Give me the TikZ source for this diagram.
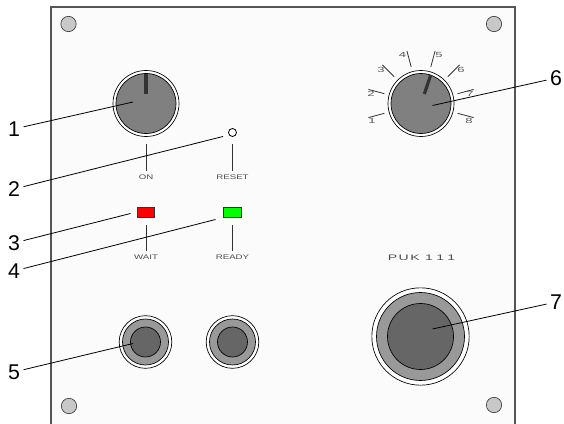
\documentclass[tikz,border=0pt]{standalone}
\usepackage{fontspec}
\setmainfont{Liberation Sans}
\newfontfamily\panelfont[FakeStretch=1.75]{Liberation Sans}
\newfontfamily\capfont[FakeStretch=1.45]{Liberation Sans}
\newfontfamily\modelfont[FakeStretch=1.75,LetterSpace=20]{Liberation Sans}
\definecolor{panelbg}{HTML}{FBFBFB}
\definecolor{paneledge}{HTML}{555555}
\definecolor{knobgray}{HTML}{808080}
\definecolor{ringgray}{HTML}{999999}
\definecolor{capgray}{HTML}{666666}
\definecolor{screwgray}{HTML}{C8C8C8}
\tikzset{
  ring/.style={circle,draw,line width=0.5pt,inner sep=0pt,fill=#1},
  screw/.style={ring=screwgray,minimum size=11.5pt,draw=black!75},
  lamp/.style={rectangle,draw=black!80,line width=0.7pt,inner sep=0pt,minimum width=13pt,minimum height=7pt,fill=#1},
  caption/.style={font=\capfont\fontsize{5pt}{6pt}\selectfont,text=black!70,inner sep=0pt},
  dialstep/.style={font=\panelfont\fontsize{5.6pt}{6pt}\selectfont,text=black!65,inner sep=0pt},
  callout/.style={font=\fontsize{16pt}{18pt}\selectfont,inner sep=2.5pt},
  leader/.style={line width=0.6pt},
  tick/.style={line width=0.6pt,black!80}
}
\begin{document}
\begin{tikzpicture}[x=0.75pt,y=-0.75pt]
  \useasboundingbox (0,0) rectangle (564,424);

  % front plate, runs off the bottom
  \fill [panelbg] (51,7) rectangle (515,424);
  \draw [paneledge,line width=0.9pt] (51,424) -- (51,7) -- (515,7) -- (515,424);

  % screws
  \node [screw] (screwa) at (68.5,24) {};
  \node [screw] (screwb) at (494,24) {};
  \node [screw] (screwc) at (69,406) {};
  \node [screw] (screwd) at (494,405) {};

  % power knob
  \node [ring=white,minimum size=49.5pt] (powerrim) at (146,103.5) {};
  \node [ring=knobgray,minimum size=45pt] (power) at (146,103.5) {};
  \draw [line width=2.4pt,black!80] (146,74) -- (146,94);

  % reset
  \node [ring=white,minimum size=6pt,line width=0.6pt] (reset) at (232.5,132.5) {};

  % lamps
  \node [lamp=red] (wait) at (146,212.5) {};
  \node [lamp=green] (ready) at (232.5,212.5) {};

  % captions and their ticks
  \node [caption] (onlabel) at (146,177.5) {ON};
  \node [caption] (resetlabel) at (232.5,177.5) {RESET};
  \node [caption] (waitlabel) at (146,257.5) {WAIT};
  \node [caption] (readylabel) at (232.5,257.5) {READY};
  \coordinate (ontop) at (146,144);
  \coordinate (resettop) at (232.5,144);
  \coordinate (waittop) at (146,225);
  \coordinate (readytop) at (232.5,225);
  \draw [tick] (ontop) -- ([yshift=3pt]onlabel.north);
  \draw [tick] (resettop) -- ([yshift=3pt]resetlabel.north);
  \draw [tick] (waittop) -- ([yshift=3pt]waitlabel.north);
  \draw [tick] (readytop) -- ([yshift=3pt]readylabel.north);

  % selector dial
  \node [ring=white,minimum size=49.5pt] (dialrim) at (421,103.5) {};
  \node [ring=knobgray,minimum size=45pt] (dial) at (421,103.5) {};
  \draw [line width=2.4pt,black!80] (430.7,75) -- (424.3,94);
  \foreach \a in {-195,-165,-135,-105,-75,-45,-15,15}
    \draw [tick] ([shift={(\a:38)}]dial.center) -- ([shift={(\a:54.5)}]dial.center);
  \foreach \n/\px/\py in {1/372/121,2/371/94,3/381/70,4/402.5/55,5/439/55,6/461/70,7/470/94,8/469/121}
    \node [dialstep] (step\n) at (\px,\py) {\n};

  % sockets
  \node [ring=white,minimum size=39.5pt] (jacka) at (145.5,342) {};
  \node [ring=ringgray,minimum size=34.5pt] (jackaring) at (145.5,342) {};
  \node [ring=capgray,minimum size=22.5pt] (jackacap) at (145.5,342) {};
  \node [ring=white,minimum size=39.5pt] (jackb) at (232.5,342) {};
  \node [ring=ringgray,minimum size=34.5pt] (jackbring) at (232.5,342) {};
  \node [ring=capgray,minimum size=22.5pt] (jackbcap) at (232.5,342) {};

  % main connector
  \node [caption,font=\modelfont\fontsize{6pt}{7pt}\selectfont] (model) at (421.5,257.5) {PUK 1\kern2.5pt 1\kern2.5pt 1};
  \node [ring=white,minimum size=73pt] (mainrim) at (420.5,336.5) {};
  \node [ring=ringgray,minimum size=66pt] (mainring) at (420.5,336.5) {};
  \node [ring=capgray,minimum size=49.5pt] (maincap) at (420.5,336.5) {};

  % callouts
  \node [callout] (numa) at (14,129) {1};
  \node [callout] (numb) at (14,189) {2};
  \node [callout] (numc) at (14,243) {3};
  \node [callout] (numd) at (14,271) {4};
  \node [callout] (nume) at (14,372) {5};
  \node [callout] (numf) at (556,78) {6};
  \node [callout] (numg) at (556,302) {7};
  \coordinate (enda) at (133,102);
  \coordinate (endb) at (223,136.5);
  \coordinate (endc) at (130.5,213.5);
  \coordinate (endd) at (215.5,219.5);
  \coordinate (ende) at (133,343.5);
  \coordinate (endf) at (432.5,105.5);
  \coordinate (endg) at (432.5,329);
  \draw [leader] (numa) -- (enda);
  \draw [leader] (numb) -- (endb);
  \draw [leader] (numc) -- (endc);
  \draw [leader] (numd) -- (endd);
  \draw [leader] (nume) -- (ende);
  \draw [leader] (numf) -- (endf);
  \draw [leader] (numg) -- (endg);
\end{tikzpicture}
\end{document}
